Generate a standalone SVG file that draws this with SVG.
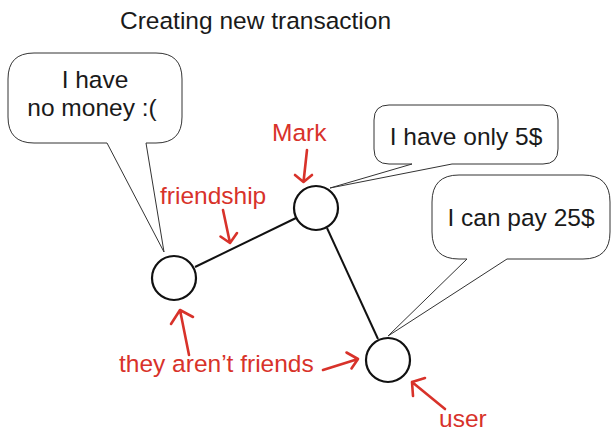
<svg xmlns="http://www.w3.org/2000/svg" width="616" height="444" viewBox="0 0 616 444">
<style>
text{font-family:"Liberation Sans",Arial,sans-serif;font-size:24.5px}
.t{fill:#1a1a1a}
.r{fill:#d8322a}
.node{fill:#fff;stroke:#111;stroke-width:2.2}
.bub{fill:#fff;stroke:#333;stroke-width:1}
.edge{stroke:#111;stroke-width:2;fill:none}
.ar{stroke:#d8322a;stroke-width:2.6;fill:none;stroke-linecap:round;stroke-linejoin:round}
</style>
<rect width="616" height="444" fill="#fff"/>
<text class="t" x="120" y="29">Creating new transaction</text>

<g id="bubble-left">
<path class="bub" d="M34,53 H156 Q182,53 182,79 V117 Q182,143 156,143 H146 L164,252 L107,143 H34 Q8,143 8,117 V79 Q8,53 34,53 Z"/>
<text class="t" x="95" y="88" text-anchor="middle">I have</text>
<text class="t" x="92" y="116" text-anchor="middle">no money :(</text>
</g>

<g id="bubble-mark">
<path class="bub" d="M389,105 H543 Q558,105 558,120 V149 Q558,164 543,164 H452 L330,188 L412,164 H389 Q374,164 374,149 V120 Q374,105 389,105 Z"/>
<text class="t" x="466" y="145" text-anchor="middle">I have only 5$</text>
</g>

<g id="bubble-user">
<path class="bub" d="M459,175 H583 Q610,175 610,202 V232 Q610,259 583,259 H507 L388,336 L467,259 H459 Q432,259 432,232 V202 Q432,175 459,175 Z"/>
<text class="t" x="521" y="226" text-anchor="middle">I can pay 25$</text>
</g>

<g id="connectors">
<line class="edge" x1="195" y1="267" x2="296" y2="218"/>
<line class="edge" x1="327" y1="228" x2="378" y2="339"/>
</g>

<g id="node-left"><circle class="node" cx="174" cy="278" r="22"/></g>
<g id="node-mark"><circle class="node" cx="316" cy="208" r="22"/></g>
<g id="node-user"><circle class="node" cx="388" cy="360" r="22"/></g>

<g id="labels">
<text class="r" x="272" y="141">Mark</text>
<path class="ar" d="M307,150 L303.5,182 M295,175 L303.5,182 L312,175"/>
<text class="r" x="160" y="204">friendship</text>
<path class="ar" d="M223,210 L230,243 M220.5,236.5 L230,243 L237,233"/>
<text class="r" x="119" y="372">they aren’t friends</text>
<path class="ar" d="M189,355 L180,310 M171,324 L180,310 L193,317"/>
<path class="ar" d="M323,370 L358,359 M346.5,352.5 L358,359 L351.5,368.5"/>
<text class="r" x="439" y="427">user</text>
<path class="ar" d="M445,409 L412,382 M425,378 L412,382 L413,396"/>
</g>
</svg>
